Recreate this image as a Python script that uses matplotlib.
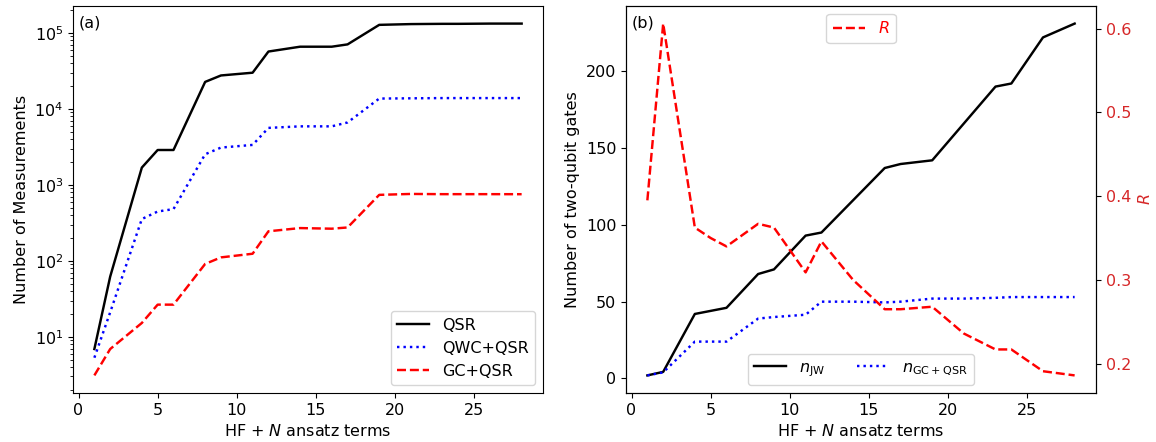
# Measurements and two-qubit gates vs number of ansatz terms

import matplotlib.pyplot as plt

plt.rcParams['font.size'] = 11.5
plt.rcParams['lines.linewidth'] = 1.75

terms = [1, 2, 4, 5, 6, 8, 9, 11, 12, 14, 16, 17, 19, 21, 23, 24, 26, 28]

qsr = [6.9, 62, 1690, 2880, 2880, 22700, 27600, 30000, 57000, 66000, 66000,
       70800, 128000, 131000, 132000, 132000, 133000, 133000]
qwc_qsr = [5.3, 21, 355, 446, 480, 2530, 3100, 3360, 5630, 5900, 5900,
           6640, 13700, 13800, 13900, 13900, 13900, 13900]
gc_qsr = [3.1, 6.9, 15.2, 26.5, 26.5, 91, 111, 124, 245, 270, 265,
          275, 739, 760, 755, 755, 755, 754]

n_jw = [2, 4.3, 42, 44, 46, 68, 71, 93, 95, 116, 137, 139.6, 142, 166, 190,
        192, 222, 231]
n_gc_qsr = [2, 4, 24, 24, 24, 39, 40, 41.5, 50, 50, 49.5, 50, 52, 52, 52.5,
            53, 53, 53]
ratio = [0.395, 0.606, 0.3625, 0.35, 0.34, 0.367, 0.3625, 0.309, 0.346,
         0.30, 0.265, 0.265, 0.268, 0.236, 0.217, 0.217, 0.191, 0.186]

fig = plt.figure(figsize=(11.56, 4.42), dpi=100)

ax1 = fig.add_axes([73 / 1156, 1 - 393 / 442, 470 / 1156, 387 / 442])
ax1.plot(terms, qsr, color="black", linestyle="-", label="QSR")
ax1.plot(terms, qwc_qsr, color="blue", linestyle="dotted", label="QWC+QSR")
ax1.plot(terms, gc_qsr, color="red", linestyle="--", label="GC+QSR")
ax1.set_yscale("log")
ax1.set_xlabel("HF + $N$ ansatz terms")
ax1.set_ylabel("Number of Measurements")
ax1.text(0.012, 0.975, "(a)", transform=ax1.transAxes, va="top", ha="left")
ax1.legend(loc="lower right")

ax2 = fig.add_axes([626 / 1156, 1 - 393 / 442, 470 / 1156, 387 / 442])
l1, = ax2.plot(terms, n_jw, color="black", linestyle="-", label=r"$n_{\rm JW}$")
l2, = ax2.plot(terms, n_gc_qsr, color="blue", linestyle="dotted",
               label=r"$n_{\rm GC+QSR}$")
ax2.set_xlabel("HF + $N$ ansatz terms")
ax2.set_ylabel("Number of two-qubit gates")
ax2.text(0.012, 0.975, "(b)", transform=ax2.transAxes, va="top", ha="left")
ax2.legend(handles=[l1, l2], loc="lower center", ncol=2)

ax3 = ax2.twinx()
ax3.plot(terms, ratio, color="red", linestyle="--", label="$R$")
ax3.set_ylabel("$R$", color="tab:red")
ax3.tick_params(axis="y", labelcolor="tab:red")
ax3.legend(loc="upper center", labelcolor="red")

fig.savefig("out.png")
